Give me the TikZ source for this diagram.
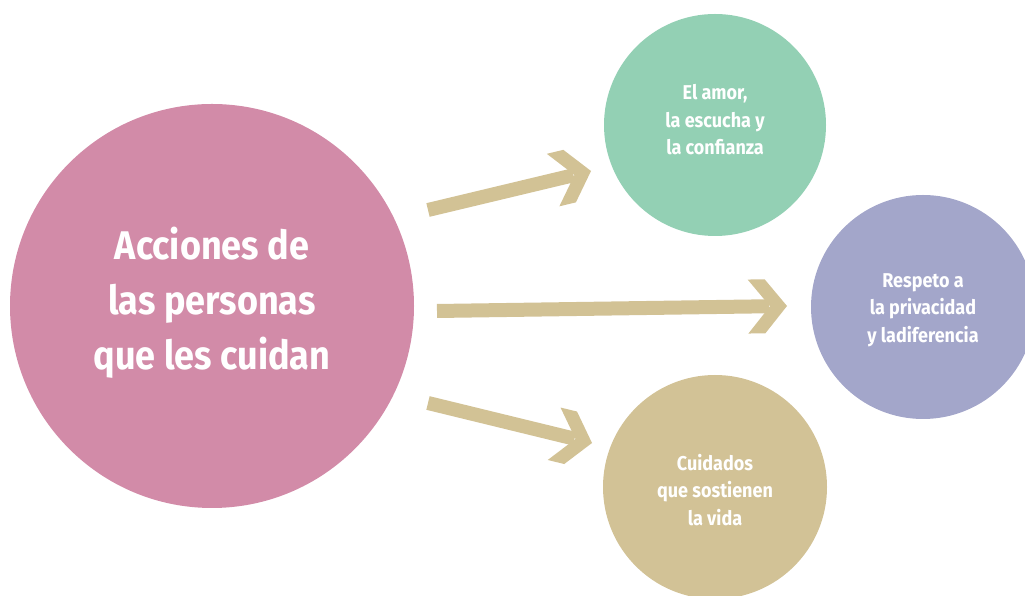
\documentclass[tikz,border=0pt]{standalone}
\usepackage{fontspec}
\setmainfont{Fira Sans}[FakeStretch=0.9]
\usetikzlibrary{calc}
\definecolor{pinkc}{HTML}{D28BA8}
\definecolor{greenc}{HTML}{93D0B4}
\definecolor{purplec}{HTML}{A3A6CA}
\definecolor{tanc}{HTML}{D2C296}
\definecolor{arrowc}{HTML}{D2C295}
\tikzset{
  bubble/.style={circle, inner sep=0pt, text=white, align=center, font=\bfseries\fontsize{20}{27.5}\selectfont},
  bigbubble/.style={bubble, font=\bfseries\fontsize{40}{55}\selectfont},
  shaft/.style={draw=arrowc, line width=14pt, shorten >=18pt},
  headc/.style={fill=arrowc}
}
\begin{document}
\begin{tikzpicture}[x=1pt,y=1pt]
\useasboundingbox (0,0) rectangle (1025,596);
% circles
\node[bigbubble, fill=pinkc, minimum size=404pt] (big) at (212,290) {};
\node[bubble, fill=greenc, minimum size=222pt] (green) at (715,471) {};
\node[bubble, fill=purplec, minimum size=224pt] (purple) at (923,289) {};
\node[bubble, fill=tanc, minimum size=224pt] (tan) at (715,109) {};
% texts
\node[bigbubble] (bigt) at (212,293) {Acciones de\\las personas\\que les cuidan};
\node[bubble] (greent) at (715,476) {El amor,\\la escucha y\\la confianza};
\node[bubble] (purplet) at (923,286) {Respeto a\\la privacidad\\y ladiferencia};
\node[bubble] (tant) at (715,106) {Cuidados\\que sostienen\\la vida};
% arrows
\coordinate (s1) at (428,386); \coordinate (t1) at (591,425);
\coordinate (s2) at (437,285); \coordinate (t2) at (787,290);
\coordinate (s3) at (428,193); \coordinate (t3) at (592,153);
\draw[shaft] (s1) -- (t1);
\draw[shaft] (s2) -- (t2);
\draw[shaft] (s3) -- (t3);
\fill[headc, shift={(t1)}, rotate=13.46] (-39,-27) -- (-22,-27) -- (0,0) -- (-22,27) -- (-39,27) -- (-17,0) -- cycle;
\fill[headc, shift={(t2)}, rotate=0.8] (-39,-27) -- (-22,-27) -- (0,0) -- (-22,27) -- (-39,27) -- (-17,0) -- cycle;
\fill[headc, shift={(t3)}, rotate=-13.7] (-39,-27) -- (-22,-27) -- (0,0) -- (-22,27) -- (-39,27) -- (-17,0) -- cycle;
\end{tikzpicture}
\end{document}
